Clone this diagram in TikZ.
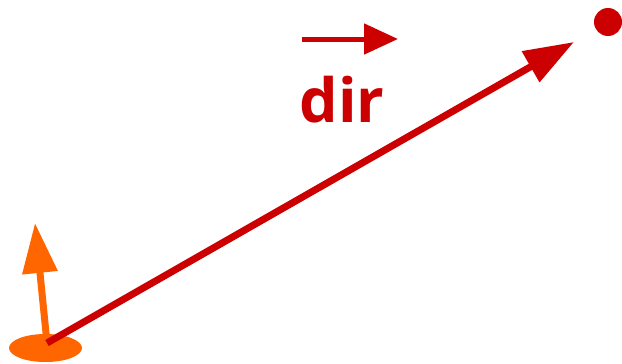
\documentclass[tikz,border=0pt]{standalone}
\usepackage{fontspec}
\setmainfont{Open Sans}
\usetikzlibrary{arrows.meta}
\definecolor{dirred}{HTML}{CC0000}
\definecolor{normorange}{HTML}{FF6600}
\begin{document}
\begin{tikzpicture}[x=1pt, y=-1pt,
    bigarrow/.style={line width=7pt, -{Triangle[length=50pt, width=34pt]}},
    smallarrow/.style={line width=5pt, -{Triangle[length=34pt, width=30pt]}}]
    \useasboundingbox (0,0) rectangle (622,364);

    % surface point with its normal
    \fill[normorange] (45.5,348) ellipse (36.5 and 14);
    \coordinate (origin) at (47,343);
    \coordinate (normaltip) at (35,223);
    \draw[bigarrow, normorange] (origin) -- (normaltip);

    % ray towards the target
    \node[circle, fill=dirred, inner sep=0pt, minimum size=28pt] (target) at (608,22) {};
    \coordinate (raytip) at (574,42);
    \draw[bigarrow, dirred] (origin) -- (raytip);

    % label
    \node[anchor=base, text=dirred, font=\bfseries\fontsize{61}{66}\selectfont, inner sep=0pt] (dirlabel) at (342,122) {dir};
    \coordinate (vecstart) at (302,39);
    \coordinate (vecend) at (398,39);
    \draw[smallarrow, dirred] (vecstart) -- (vecend);
\end{tikzpicture}
\end{document}
